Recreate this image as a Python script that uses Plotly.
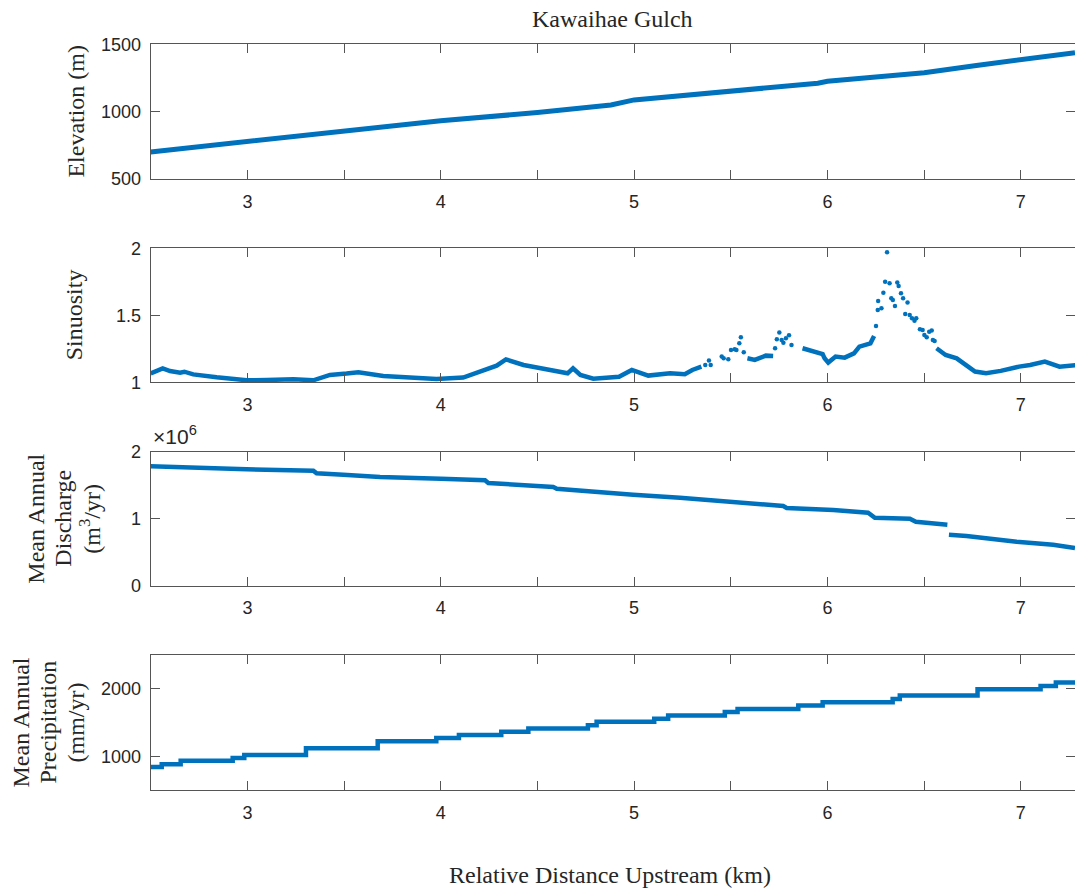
import plotly.graph_objects as go

# ---------------- data ----------------
elev_km = [2.5, 3.0, 3.5, 4.0, 4.5, 4.88, 5.0, 5.5, 5.95, 6.0, 6.47, 6.5, 6.77, 7.0, 7.28]
elev_m = [701, 776, 858, 933, 993, 1050, 1087, 1149, 1211, 1226, 1281, 1289, 1343, 1388, 1438]

sin_km = [2.5, 2.562, 2.6, 2.652, 2.674, 2.72, 2.841, 2.996, 3.1, 3.238, 3.341, 3.427, 3.513,
          3.574, 3.703, 3.875, 3.978, 4.116, 4.22, 4.289, 4.337, 4.428, 4.504, 4.656, 4.684,
          4.722, 4.789, 4.922, 4.988, 5.035, 5.073, 5.186, 5.262, 5.301, 5.348,
          5.368, 5.387, 5.396, 5.453, 5.463, 5.487, 5.501, 5.52, 5.529, 5.544, 5.552, 5.567,
          5.586, 5.624, 5.681, 5.719,
          5.729, 5.738, 5.751, 5.763, 5.772, 5.785, 5.801, 5.814,
          5.871, 5.928, 5.975, 5.985, 6.004, 6.042, 6.089, 6.137, 6.165, 6.222, 6.241,
          6.251, 6.26, 6.262, 6.279, 6.289, 6.298, 6.308, 6.321, 6.33, 6.338, 6.349, 6.361,
          6.368, 6.38, 6.391, 6.402, 6.414, 6.425, 6.437, 6.45, 6.459, 6.478, 6.492, 6.501,
          6.513, 6.526, 6.539, 6.545, 6.554,
          6.564, 6.611, 6.668, 6.706, 6.763, 6.82, 6.896, 6.991, 7.048, 7.124, 7.2, 7.29]
sin_val = [1.067, 1.104, 1.084, 1.072, 1.079, 1.059, 1.037, 1.015, 1.017, 1.022, 1.015, 1.055, 1.065,
           1.075, 1.047, 1.035, 1.025, 1.035, 1.084, 1.124, 1.171, 1.129, 1.109, 1.067, 1.104,
           1.055, 1.027, 1.042, 1.092, 1.072, 1.050, 1.067, 1.060, 1.092, 1.117,
           1.129, 1.162, 1.129, 1.192, 1.179, 1.172, 1.241, 1.246, 1.241, 1.291, 1.336, 1.224,
           1.179, 1.167, 1.199, 1.197,
           1.254, 1.321, 1.371, 1.316, 1.296, 1.328, 1.351, 1.279,
           1.254, 1.229, 1.211, 1.179, 1.147, 1.192, 1.184, 1.216, 1.266, 1.291, 1.346,
           1.420, 1.540, 1.607, 1.552, 1.669, 1.751, 1.970, 1.739, 1.627, 1.614, 1.570, 1.744,
           1.719, 1.664, 1.627, 1.510, 1.595, 1.502, 1.478, 1.460, 1.478, 1.396, 1.391, 1.353,
           1.336, 1.378, 1.386, 1.316, 1.308,
           1.254, 1.204, 1.179, 1.142, 1.080, 1.067, 1.085, 1.117, 1.129, 1.154, 1.117, 1.129]
# stretches where the sinuosity series is a scatter of separate points
sin_scatter_spans = [(5.36, 5.58), (5.725, 5.82), (6.245, 6.56)]

disch_km_a = [2.5, 2.755, 2.996, 3.341, 3.358, 3.496, 3.686, 4.001, 4.229, 4.246, 4.496,
              4.582, 4.6, 4.737, 4.823, 4.995, 5.237, 5.392, 5.409, 5.547, 5.771, 5.789,
              6.03, 6.21, 6.245, 6.426, 6.457, 6.62]
disch_a = [1.782e6, 1.757e6, 1.737e6, 1.717e6, 1.677e6, 1.657e6, 1.622e6, 1.597e6, 1.573e6,
           1.533e6, 1.493e6, 1.473e6, 1.448e6, 1.413e6, 1.394e6, 1.359e6, 1.314e6, 1.279e6,
           1.259e6, 1.229e6, 1.189e6, 1.160e6, 1.130e6, 1.090e6, 1.015e6, 1.000e6, 0.955e6,
           0.911e6]
disch_km_b = [6.628, 6.719, 6.978, 7.167, 7.28]
disch_b = [0.762e6, 0.742e6, 0.657e6, 0.612e6, 0.563e6]

precip_km = [2.5, 2.557, 2.655, 2.924, 2.984, 3.303, 3.674, 3.977, 4.094, 4.313, 4.453, 4.761,
             4.806, 5.104, 5.176, 5.469, 5.535, 5.849, 5.975, 6.337, 6.374, 6.776, 7.102, 7.181,
             7.28]
precip_mm = [845, 885, 935, 975, 1020, 1120, 1225, 1270, 1315, 1365, 1410, 1460, 1510, 1555,
             1605, 1655, 1700, 1750, 1800, 1845, 1900, 1990, 2040, 2090, 2090]

x_ticks = [3, 3.5, 4, 4.5, 5, 5.5, 6, 6.5, 7]
x_ticktext = ['3', '', '4', '', '5', '', '6', '', '7']

# ---------------- styling ----------------
W, H = 1075, 890
BLUE = '#0072BD'
AXC = '#555555'
TXT = '#262626'
SANS = 'Liberation Sans'
SERIF = 'Liberation Serif'
LW = 4.5

def fx(p):
    return p / W

def fy(p):
    return 1 - p / H

panels = [(44.3, 179.0), (248.3, 382.3), (451.7, 585.7), (654.7, 790.3)]

fig = go.Figure()

def in_spans(x):
    return any(a <= x <= b for a, b in sin_scatter_spans)

# Elevation
fig.add_trace(go.Scatter(x=elev_km, y=elev_m, mode='lines',
                         line=dict(color=BLUE, width=LW + 0.5), xaxis='x', yaxis='y'))
# Sinuosity: continuous part + scattered points
sin_line_y = [None if in_spans(x) else y for x, y in zip(sin_km, sin_val)]
fig.add_trace(go.Scatter(x=sin_km, y=sin_line_y, mode='lines', connectgaps=False,
                         line=dict(color=BLUE, width=LW), xaxis='x2', yaxis='y2'))
fig.add_trace(go.Scatter(x=[x for x in sin_km if in_spans(x)],
                         y=[y for x, y in zip(sin_km, sin_val) if in_spans(x)],
                         mode='markers', marker=dict(color=BLUE, size=4.5),
                         xaxis='x2', yaxis='y2'))
# Discharge (two segments)
fig.add_trace(go.Scatter(x=disch_km_a, y=disch_a, mode='lines',
                         line=dict(color=BLUE, width=LW), xaxis='x3', yaxis='y3'))
fig.add_trace(go.Scatter(x=disch_km_b, y=disch_b, mode='lines',
                         line=dict(color=BLUE, width=LW), xaxis='x3', yaxis='y3'))
# Precipitation (steps)
fig.add_trace(go.Scatter(x=precip_km, y=precip_mm, mode='lines', line_shape='hv',
                         line=dict(color=BLUE, width=LW), xaxis='x4', yaxis='y4'))

y_specs = [
    dict(range=[500, 1500], tickvals=[500, 1000, 1500], ticktext=['500', '1000', '1500']),
    dict(range=[1, 2], tickvals=[1, 1.5, 2], ticktext=['1', '1.5', '2']),
    dict(range=[0, 2e6], tickvals=[0, 1e6, 2e6], ticktext=['0', '1', '2']),
    dict(range=[500, 2500], tickvals=[1000, 2000], ticktext=['1000', '2000']),
]

layout = dict(
    width=W, height=H, template='none', showlegend=False,
    paper_bgcolor='white', plot_bgcolor='white',
    margin=dict(l=0, r=0, t=0, b=0),
)
for i, (top, bot) in enumerate(panels):
    n = '' if i == 0 else str(i + 1)
    layout['xaxis' + n] = dict(
        domain=[fx(150.7), 1.0], range=[2.5, 7.28], anchor='y' + n,
        tickmode='array', tickvals=x_ticks, ticktext=x_ticktext,
        ticks='inside', ticklen=9, tickwidth=1, tickcolor=AXC,
        showline=True, linecolor=AXC, linewidth=1, mirror='ticks',
        showgrid=False, zeroline=False, automargin=False,
        tickfont=dict(family=SANS, size=18, color=TXT), ticklabelstandoff=6,
    )
    ys = y_specs[i]
    layout['yaxis' + n] = dict(
        domain=[fy(bot), fy(top)], range=ys['range'], anchor='x' + n,
        tickmode='array', tickvals=ys['tickvals'], ticktext=ys['ticktext'],
        ticks='inside', ticklen=9, tickwidth=1, tickcolor=AXC,
        showline=True, linecolor=AXC, linewidth=1, mirror='ticks',
        showgrid=False, zeroline=False, automargin=False,
        tickfont=dict(family=SANS, size=18, color=TXT), ticklabelstandoff=5,
    )
fig.update_layout(**layout)

serif = dict(family=SERIF, size=24, color=TXT)
ann = []
def add_text(text, x, y, angle=0, font=serif, xanchor='center', yanchor='middle'):
    ann.append(dict(text=text, x=fx(x), y=fy(y), xref='paper', yref='paper',
                    showarrow=False, textangle=angle, font=font,
                    xanchor=xanchor, yanchor=yanchor))

add_text('Kawaihae Gulch', 612, 19)
add_text('Relative Distance Upstream (km)', 610, 875)
add_text('Elevation (m)', 76, 111.6, -90)
add_text('Sinuosity', 74, 315.3, -90)
add_text('Mean Annual', 36, 518.7, -90)
add_text('Discharge', 63, 518.7, -90)
add_text('(m<sup>3</sup>/yr)', 90, 518.7, -90)
add_text('Mean Annual', 20, 722.5, -90)
add_text('Precipitation', 47, 722.5, -90)
add_text('(mm/yr)', 75, 722.5, -90)
add_text('×10<sup>6</sup>', 151, 450, 0, dict(family=SANS, size=21, color=TXT),
         xanchor='left', yanchor='bottom')
fig.update_layout(annotations=ann)

fig.write_html('out.html')
